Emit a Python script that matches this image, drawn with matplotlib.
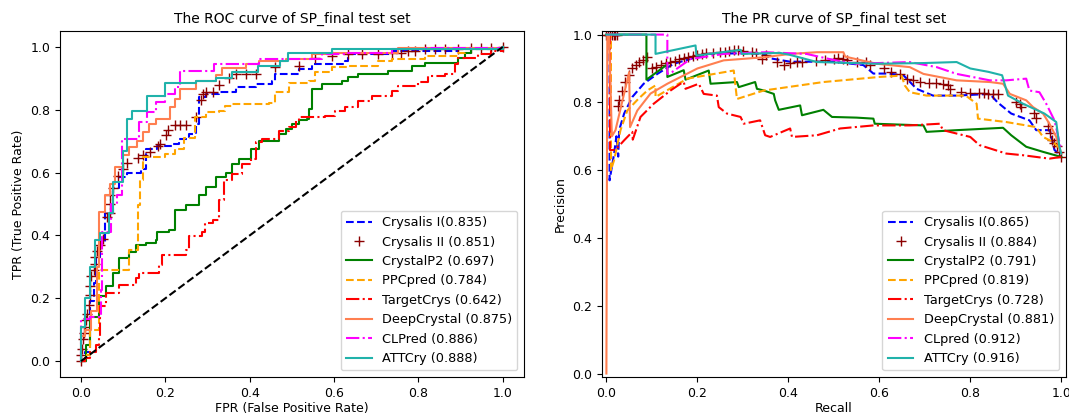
import matplotlib
matplotlib.use("Agg")
import matplotlib.pyplot as plt

# ---------------- ROC data (step corners) ----------------
roc_c1_fpr = [0, 0.01, 0.021, 0.022, 0.03, 0.035, 0.045, 0.057, 0.076, 0.09, 0.108, 0.143, 0.155, 0.18, 0.218, 0.233, 0.257, 0.273, 0.281, 0.296, 0.328, 0.367, 0.414, 0.454, 0.46, 0.516, 0.548, 0.627, 0.634, 0.737, 0.894, 1.0]
roc_c1_tpr = [0, 0.03, 0.12, 0.19, 0.25, 0.33, 0.38, 0.47, 0.55, 0.585, 0.6, 0.61, 0.675, 0.685, 0.69, 0.707, 0.723, 0.755, 0.84, 0.85, 0.855, 0.871, 0.882, 0.892, 0.913, 0.929, 0.945, 0.956, 0.977, 0.987, 0.993, 1.0]

roc_c2_fpr = [0, 0, 0.002, 0.005, 0.008, 0.01, 0.012, 0.015, 0.018, 0.021, 0.021, 0.025, 0.03, 0.033, 0.033, 0.039, 0.045, 0.053, 0.061, 0.068, 0.068, 0.068, 0.075, 0.088, 0.1, 0.108, 0.135, 0.147, 0.163, 0.182, 0.188, 0.202, 0.206, 0.222, 0.235, 0.249, 0.273, 0.285, 0.289, 0.296, 0.312, 0.328, 0.351, 0.367, 0.391, 0.414, 0.461, 0.516, 0.556, 0.595, 0.634, 0.666, 0.705, 0.737, 0.76, 0.776, 0.792, 0.815, 0.839, 0.862, 0.894, 0.925, 0.949, 0.972, 1.0]
roc_c2_tpr = [0, 0.02, 0.04, 0.07, 0.09, 0.11, 0.13, 0.15, 0.18, 0.21, 0.24, 0.27, 0.29, 0.31, 0.33, 0.35, 0.37, 0.39, 0.46, 0.47, 0.5, 0.53, 0.55, 0.59, 0.61, 0.63, 0.645, 0.655, 0.665, 0.685, 0.69, 0.72, 0.735, 0.75, 0.75, 0.75, 0.776, 0.83, 0.85, 0.855, 0.855, 0.88, 0.9, 0.913, 0.913, 0.913, 0.935, 0.94, 0.966, 0.971, 0.977, 0.977, 0.977, 0.982, 0.982, 0.987, 0.987, 0.993, 0.993, 0.993, 0.993, 0.998, 0.998, 0.998, 1.0]

roc_p2_fpr = [0, 0.013, 0.021, 0.021, 0.042, 0.059, 0.075, 0.09, 0.114, 0.13, 0.154, 0.177, 0.181, 0.209, 0.224, 0.248, 0.279, 0.296, 0.32, 0.344, 0.359, 0.375, 0.403, 0.422, 0.469, 0.485, 0.5, 0.516, 0.536, 0.54, 0.548, 0.572, 0.619, 0.634, 0.658, 0.729, 0.784, 0.815, 0.894, 0.91, 0.925, 1.0]
roc_p2_tpr = [0, 0.05, 0.1, 0.14, 0.207, 0.238, 0.281, 0.328, 0.349, 0.37, 0.376, 0.386, 0.412, 0.418, 0.481, 0.497, 0.528, 0.554, 0.586, 0.6, 0.628, 0.644, 0.676, 0.702, 0.723, 0.739, 0.755, 0.766, 0.771, 0.803, 0.866, 0.882, 0.892, 0.903, 0.913, 0.924, 0.94, 0.95, 0.966, 0.982, 0.993, 1.0]

roc_ppc_fpr = [0, 0.01, 0.021, 0.021, 0.043, 0.043, 0.114, 0.136, 0.14, 0.146, 0.2, 0.222, 0.244, 0.27, 0.296, 0.328, 0.342, 0.359, 0.446, 0.461, 0.493, 0.54, 0.556, 0.595, 0.634, 0.705, 0.737, 0.815, 0.894, 0.91, 1.0]
roc_ppc_tpr = [0, 0.02, 0.07, 0.1, 0.175, 0.29, 0.354, 0.497, 0.576, 0.65, 0.66, 0.676, 0.71, 0.776, 0.792, 0.797, 0.813, 0.818, 0.82, 0.855, 0.884, 0.892, 0.919, 0.935, 0.94, 0.956, 0.961, 0.971, 0.982, 0.993, 1.0]

roc_tc_fpr = [0, 0.01, 0.021, 0.035, 0.043, 0.046, 0.059, 0.09, 0.13, 0.138, 0.185, 0.193, 0.248, 0.256, 0.287, 0.295, 0.312, 0.328, 0.34, 0.359, 0.383, 0.403, 0.414, 0.43, 0.469, 0.493, 0.509, 0.516, 0.579, 0.603, 0.627, 0.658, 0.689, 0.737, 0.752, 0.8, 0.823, 0.862, 0.886, 0.894, 0.941, 0.972, 1.0]
roc_tc_tpr = [0, 0.01, 0.03, 0.05, 0.08, 0.175, 0.217, 0.244, 0.265, 0.281, 0.307, 0.339, 0.354, 0.397, 0.412, 0.439, 0.449, 0.512, 0.575, 0.597, 0.628, 0.644, 0.697, 0.708, 0.734, 0.744, 0.766, 0.776, 0.781, 0.797, 0.808, 0.829, 0.845, 0.861, 0.876, 0.887, 0.908, 0.913, 0.945, 0.966, 0.977, 0.987, 1.0]

roc_dc_fpr = [0, 0.001, 0.01, 0.025, 0.039, 0.043, 0.057, 0.068, 0.08, 0.1, 0.114, 0.134, 0.147, 0.162, 0.177, 0.21, 0.224, 0.236, 0.272, 0.32, 0.335, 0.391, 0.422, 0.485, 0.548, 0.595, 0.752, 1.0]
roc_dc_tpr = [0, 0.08, 0.1, 0.16, 0.3, 0.476, 0.528, 0.565, 0.618, 0.655, 0.681, 0.702, 0.73, 0.755, 0.771, 0.808, 0.834, 0.865, 0.89, 0.911, 0.932, 0.945, 0.954, 0.961, 0.977, 0.982, 0.998, 1.0]

roc_cl_fpr = [0, 0, 0.021, 0.047, 0.05, 0.072, 0.085, 0.098, 0.138, 0.157, 0.177, 0.2, 0.224, 0.236, 0.315, 0.422, 0.572, 0.634, 0.737, 0.815, 1.0]
roc_cl_tpr = [0, 0.133, 0.14, 0.228, 0.41, 0.5, 0.53, 0.708, 0.76, 0.792, 0.824, 0.85, 0.871, 0.924, 0.945, 0.961, 0.977, 0.982, 0.993, 0.998, 1.0]

roc_att_fpr = [0, 0, 0.01, 0.021, 0.034, 0.045, 0.067, 0.076, 0.1, 0.11, 0.122, 0.157, 0.2, 0.272, 0.32, 0.357, 0.42, 0.473, 0.49, 0.595, 1.0]
roc_att_tpr = [0, 0.11, 0.2, 0.3, 0.386, 0.407, 0.47, 0.57, 0.67, 0.772, 0.797, 0.845, 0.884, 0.89, 0.9, 0.92, 0.94, 0.955, 0.98, 0.993, 1.0]

roc_labels = ["Crysalis I(0.835)", "Crysalis II (0.851)", "CrystalP2 (0.697)", "PPCpred (0.784)",
              "TargetCrys (0.642)", "DeepCrystal (0.875)", "CLPred (0.886)", "ATTCry (0.888)"]

# ---------------- PR data ----------------
pr_c1_rec = [0.0, 0.007, 0.007, 0.017, 0.022, 0.026, 0.028, 0.039, 0.057, 0.082, 0.112, 0.148, 0.185, 0.221, 0.30, 0.346, 0.36, 0.404, 0.50, 0.565, 0.587, 0.62, 0.653, 0.682, 0.718, 0.77, 0.843, 0.86, 0.89, 0.93, 0.945, 0.975, 0.985, 1.0]
pr_c1_prec = [1.0, 1.0, 0.57, 0.649, 0.70, 0.64, 0.718, 0.767, 0.816, 0.855, 0.884, 0.914, 0.928, 0.943, 0.945, 0.943, 0.93, 0.92, 0.92, 0.91, 0.885, 0.885, 0.88, 0.84, 0.82, 0.82, 0.825, 0.80, 0.767, 0.747, 0.718, 0.718, 0.66, 0.64]

pr_c2_rec = [0, 0.004, 0.008, 0.012, 0.016, 0.02, 0.024, 0.026, 0.028, 0.035, 0.042, 0.05, 0.057, 0.064, 0.072, 0.08, 0.09, 0.1, 0.11, 0.12, 0.13, 0.14, 0.15, 0.16, 0.17, 0.18, 0.19, 0.2, 0.21, 0.22, 0.235, 0.25, 0.26, 0.27, 0.28, 0.29, 0.3, 0.32, 0.33, 0.342, 0.35, 0.375, 0.39, 0.404, 0.42, 0.43, 0.46, 0.48, 0.5, 0.51, 0.52, 0.53, 0.55, 0.57, 0.58, 0.61, 0.625, 0.645, 0.66, 0.675, 0.69, 0.71, 0.725, 0.74, 0.75, 0.755, 0.78, 0.8, 0.82, 0.83, 0.84, 0.85, 0.86, 0.9, 0.91, 0.912, 0.94, 0.945, 0.97, 0.975, 0.98, 0.985, 0.99, 0.995, 1.0]
pr_c2_prec = [1.0, 1.0, 1.0, 1.0, 1.0, 1.0, 1.0, 0.79, 0.806, 0.835, 0.86, 0.88, 0.9, 0.91, 0.919, 0.924, 0.933, 0.9, 0.904, 0.91, 0.915, 0.92, 0.923, 0.928, 0.932, 0.935, 0.937, 0.94, 0.943, 0.945, 0.947, 0.948, 0.95, 0.952, 0.954, 0.955, 0.952, 0.95, 0.947, 0.928, 0.94, 0.92, 0.91, 0.915, 0.92, 0.92, 0.923, 0.926, 0.928, 0.93, 0.928, 0.926, 0.92, 0.918, 0.91, 0.9, 0.89, 0.885, 0.87, 0.865, 0.86, 0.858, 0.856, 0.855, 0.85, 0.84, 0.83, 0.828, 0.828, 0.828, 0.826, 0.826, 0.825, 0.8, 0.795, 0.785, 0.77, 0.755, 0.73, 0.71, 0.69, 0.68, 0.67, 0.655, 0.64]

pr_p2_rec = [0.0, 0.088, 0.088, 0.134, 0.134, 0.17, 0.174, 0.225, 0.229, 0.287, 0.291, 0.327, 0.331, 0.346, 0.368, 0.371, 0.379, 0.426, 0.43, 0.477, 0.496, 0.55, 0.587, 0.59, 0.697, 0.704, 0.77, 0.872, 0.89, 0.923, 0.96, 1.0]
pr_p2_prec = [1.0, 1.0, 0.867, 0.912, 0.875, 0.895, 0.867, 0.894, 0.855, 0.86, 0.845, 0.86, 0.84, 0.835, 0.825, 0.806, 0.778, 0.791, 0.762, 0.778, 0.757, 0.755, 0.752, 0.737, 0.732, 0.713, 0.718, 0.725, 0.703, 0.669, 0.654, 0.639]

pr_ppc_rec = [0.0, 0.01, 0.01, 0.017, 0.031, 0.046, 0.07, 0.09, 0.108, 0.108, 0.178, 0.22, 0.28, 0.287, 0.346, 0.477, 0.6, 0.649, 0.656, 0.667, 0.704, 0.79, 0.814, 0.817, 0.879, 0.945, 0.96, 0.982, 1.0]
pr_ppc_prec = [1.0, 1.0, 0.6, 0.63, 0.718, 0.776, 0.81, 0.835, 0.85, 0.816, 0.87, 0.88, 0.894, 0.81, 0.835, 0.86, 0.875, 0.879, 0.85, 0.83, 0.82, 0.82, 0.796, 0.752, 0.742, 0.727, 0.698, 0.683, 0.66]

pr_tc_rec = [0.0, 0.008, 0.008, 0.02, 0.039, 0.057, 0.058, 0.075, 0.104, 0.141, 0.163, 0.17, 0.174, 0.203, 0.214, 0.243, 0.247, 0.265, 0.295, 0.302, 0.338, 0.349, 0.36, 0.404, 0.408, 0.463, 0.514, 0.587, 0.667, 0.733, 0.74, 0.8, 0.82, 0.879, 0.916, 0.945, 0.974, 1.0]
pr_tc_prec = [1.0, 1.0, 0.659, 0.66, 0.688, 0.713, 0.69, 0.757, 0.796, 0.835, 0.855, 0.86, 0.84, 0.855, 0.825, 0.82, 0.786, 0.767, 0.757, 0.737, 0.747, 0.703, 0.698, 0.723, 0.698, 0.703, 0.723, 0.732, 0.732, 0.737, 0.718, 0.698, 0.674, 0.649, 0.644, 0.639, 0.634, 0.639]

pr_dc_rec = [0.0, 0.002, 0.006, 0.012, 0.02, 0.05, 0.052, 0.068, 0.097, 0.134, 0.2, 0.258, 0.346, 0.404, 0.463, 0.521, 0.525, 0.594, 0.667, 0.697, 0.77, 0.843, 0.872, 0.887, 0.923, 0.938, 0.96, 0.974, 0.989, 1.0]
pr_dc_prec = [0.0, 1.0, 1.0, 0.70, 0.718, 0.889, 0.727, 0.776, 0.826, 0.855, 0.9, 0.924, 0.933, 0.943, 0.948, 0.948, 0.935, 0.914, 0.904, 0.884, 0.865, 0.86, 0.855, 0.825, 0.806, 0.786, 0.767, 0.737, 0.698, 0.649]

pr_cl_rec = [0.0, 0.134, 0.134, 0.145, 0.185, 0.258, 0.35, 0.44, 0.5, 0.55, 0.667, 0.726, 0.77, 0.843, 0.879, 0.923, 0.93, 0.952, 0.967, 0.985, 1.0]
pr_cl_prec = [1.0, 1.0, 0.884, 0.89, 0.928, 0.943, 0.948, 0.943, 0.925, 0.914, 0.919, 0.904, 0.884, 0.865, 0.865, 0.87, 0.835, 0.83, 0.796, 0.747, 0.66]

pr_att_rec = [0.0, 0.108, 0.108, 0.196, 0.198, 0.295, 0.298, 0.382, 0.404, 0.463, 0.594, 0.697, 0.77, 0.8, 0.84, 0.87, 0.883, 0.916, 0.963, 0.989, 0.996, 1.0]
pr_att_prec = [1.0, 1.0, 0.943, 0.968, 0.938, 0.955, 0.943, 0.946, 0.94, 0.919, 0.914, 0.916, 0.919, 0.9, 0.89, 0.88, 0.82, 0.796, 0.767, 0.742, 0.669, 0.649]

pr_labels = ["Crysalis I(0.865)", "Crysalis II (0.884)", "CrystalP2 (0.791)", "PPCpred (0.819)",
             "TargetCrys (0.728)", "DeepCrystal (0.881)", "CLpred (0.912)", "ATTCry (0.916)"]

colors = ["blue", "darkred", "green", "orange", "red", "coral", "magenta", "lightseagreen"]
styles = ["--", "+", "-", "--", "-.", "-", "-.", "-"]

FS = 9
LEG_FS = 9.3
fig = plt.figure(figsize=(10.69, 4.16), dpi=100)
ax1 = fig.add_axes([0.056, 0.094, 0.434, 0.831])
ax2 = fig.add_axes([0.563, 0.094, 0.434, 0.831])

roc_sets = [(roc_c1_fpr, roc_c1_tpr), (roc_c2_fpr, roc_c2_tpr), (roc_p2_fpr, roc_p2_tpr),
            (roc_ppc_fpr, roc_ppc_tpr), (roc_tc_fpr, roc_tc_tpr), (roc_dc_fpr, roc_dc_tpr),
            (roc_cl_fpr, roc_cl_tpr), (roc_att_fpr, roc_att_tpr)]
for (xs, ys), c, s, lab in zip(roc_sets, colors, styles, roc_labels):
    if s == "+":
        ax1.plot(xs, ys, "+", color=c, markersize=7, label=lab)
    else:
        ax1.plot(xs, ys, linestyle=s, color=c, lw=1.5, drawstyle="steps-post", label=lab)
ax1.plot([0, 1], [0, 1], "k--", lw=1.5)
ax1.set_title("The ROC curve of SP_final test set", fontsize=FS + 1)
ax1.set_xlabel("FPR (False Positive Rate)", fontsize=FS, labelpad=2)
ax1.set_ylabel("TPR (True Positive Rate)", fontsize=FS)
ax1.tick_params(labelsize=FS)
ax1.legend(loc="lower right", fontsize=LEG_FS, labelspacing=0.5)

pr_sets = [(pr_c1_rec, pr_c1_prec), (pr_c2_rec, pr_c2_prec), (pr_p2_rec, pr_p2_prec),
           (pr_ppc_rec, pr_ppc_prec), (pr_tc_rec, pr_tc_prec), (pr_dc_rec, pr_dc_prec),
           (pr_cl_rec, pr_cl_prec), (pr_att_rec, pr_att_prec)]
for (xs, ys), c, s, lab in zip(pr_sets, colors, styles, pr_labels):
    if s == "+":
        ax2.plot(xs, ys, "+", color=c, markersize=7, label=lab)
    else:
        ax2.plot(xs, ys, linestyle=s, color=c, lw=1.5, label=lab)
ax2.set_xlim(-0.01, 1.01)
ax2.set_ylim(-0.01, 1.01)
ax2.set_title("The PR curve of SP_final test set", fontsize=FS + 1)
ax2.set_xlabel("Recall", fontsize=FS, labelpad=2)
ax2.set_ylabel("Precision", fontsize=FS)
ax2.tick_params(labelsize=FS)
ax2.legend(loc="lower right", fontsize=LEG_FS, labelspacing=0.5)

fig.savefig("out.png", dpi=100)
